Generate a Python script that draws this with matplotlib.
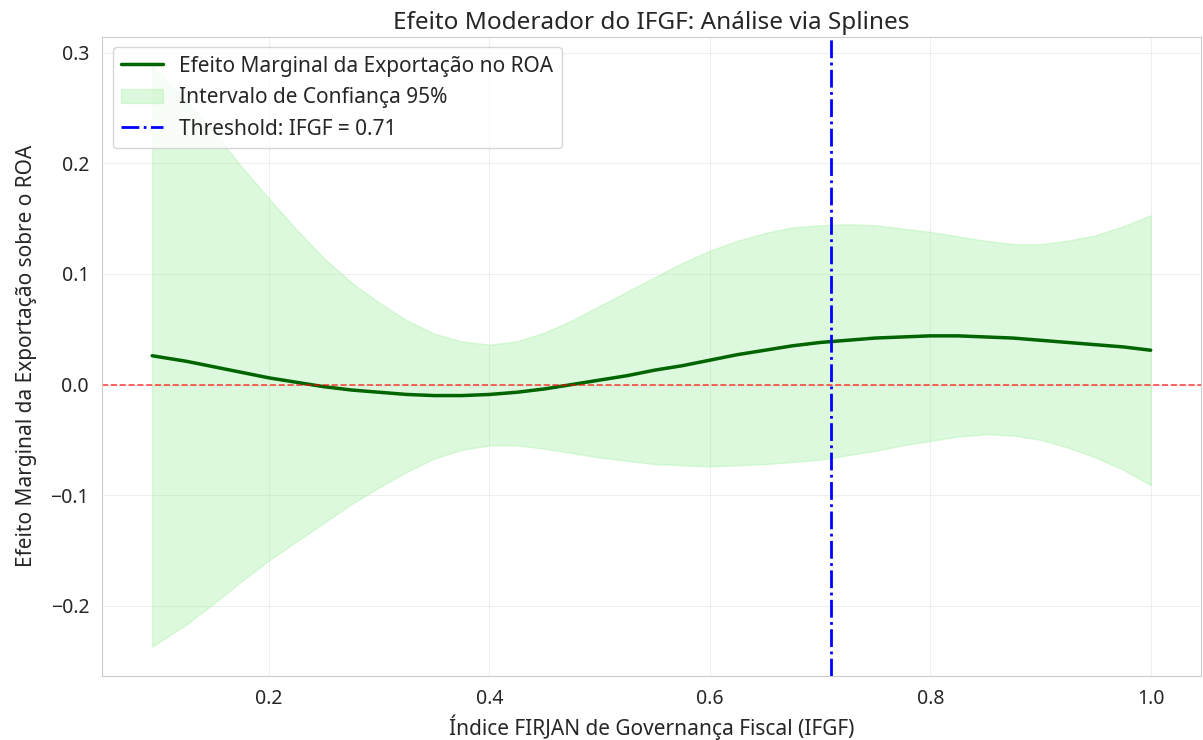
import matplotlib
matplotlib.use('Agg')
import matplotlib.pyplot as plt
import numpy as np
import seaborn as sns

sns.set_style('whitegrid')
plt.rcParams['font.family'] = ['Noto Sans', 'DejaVu Sans']

# IFGF values and spline marginal effect with 95% CI
ifgf = [0.094, 0.125, 0.150, 0.175, 0.200, 0.225, 0.250, 0.275, 0.300, 0.325,
        0.350, 0.375, 0.400, 0.425, 0.450, 0.475, 0.500, 0.525, 0.550, 0.575,
        0.600, 0.625, 0.650, 0.675, 0.700, 0.725, 0.750, 0.775, 0.800, 0.825,
        0.850, 0.875, 0.900, 0.925, 0.950, 0.975, 1.000]
efeito = [0.026, 0.021, 0.016, 0.011, 0.006, 0.002, -0.002, -0.005, -0.007, -0.009,
          -0.010, -0.010, -0.009, -0.007, -0.004, 0.000, 0.004, 0.008, 0.013, 0.017,
          0.022, 0.027, 0.031, 0.035, 0.038, 0.040, 0.042, 0.043, 0.044, 0.044,
          0.043, 0.042, 0.040, 0.038, 0.036, 0.034, 0.031]
ic_sup = [0.288, 0.256, 0.228, 0.197, 0.168, 0.140, 0.114, 0.092, 0.074, 0.058,
          0.046, 0.039, 0.036, 0.039, 0.047, 0.058, 0.071, 0.084, 0.097, 0.110,
          0.121, 0.130, 0.137, 0.142, 0.144, 0.145, 0.144, 0.141, 0.138, 0.134,
          0.130, 0.127, 0.127, 0.130, 0.135, 0.143, 0.153]
ic_inf = [-0.237, -0.217, -0.198, -0.178, -0.159, -0.142, -0.125, -0.108, -0.093, -0.079,
          -0.067, -0.059, -0.055, -0.055, -0.058, -0.062, -0.066, -0.069, -0.072, -0.073,
          -0.074, -0.073, -0.072, -0.070, -0.068, -0.064, -0.060, -0.055, -0.051, -0.047,
          -0.045, -0.046, -0.050, -0.057, -0.066, -0.077, -0.091]
threshold = 0.71

fig, ax = plt.subplots(figsize=(12.03, 7.4), dpi=100)
fig.subplots_adjust(left=0.085, right=0.998, top=0.95, bottom=0.087)

ax.plot(ifgf, efeito, color='darkgreen', linewidth=2.5,
        label='Efeito Marginal da Exportação no ROA')
ax.fill_between(ifgf, ic_inf, ic_sup, color='lightgreen', alpha=0.3,
                label='Intervalo de Confiança 95%')
ax.axhline(0, color='red', linestyle='--', linewidth=1.2, alpha=0.7)
ax.axvline(threshold, color='blue', linestyle='-.', linewidth=2,
           label='Threshold: IFGF = {:.2f}'.format(threshold))

ax.set_title('Efeito Moderador do IFGF: Análise via Splines', fontsize=17.5, pad=6)
ax.set_xlabel('Índice FIRJAN de Governança Fiscal (IFGF)', fontsize=15, labelpad=4)
ax.set_ylabel('Efeito Marginal da Exportação sobre o ROA', fontsize=15, labelpad=10)
ax.tick_params(axis='x', labelsize=14, pad=6)
ax.tick_params(axis='y', labelsize=14, pad=6)
ax.grid(True, alpha=0.3)
ax.legend(loc='upper left', fontsize=15)

plt.savefig('out.png', dpi=100)
